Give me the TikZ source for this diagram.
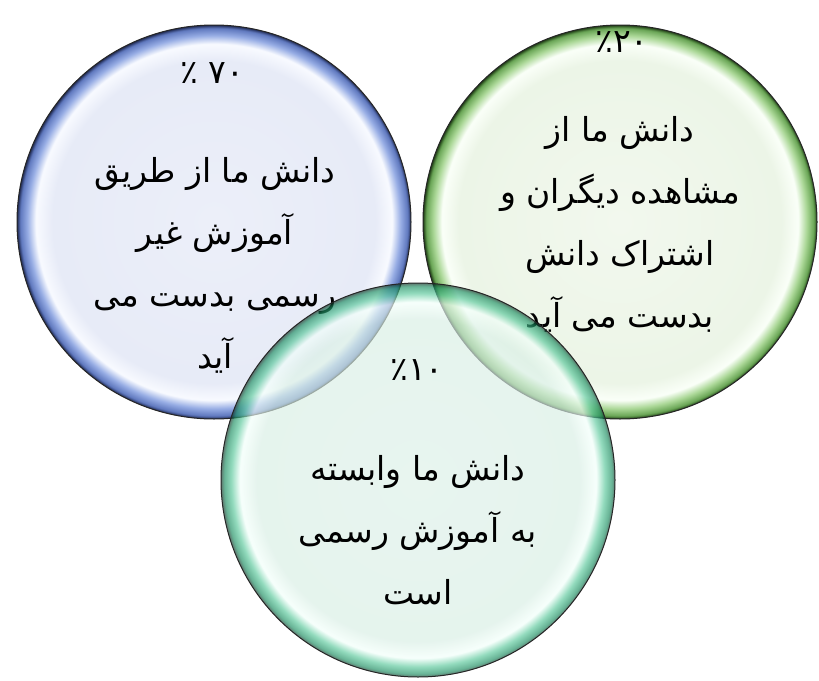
\documentclass[tikz,border=0pt]{standalone}
\usepackage{fontspec}
\newfontfamily\fa[Script=Arabic]{DejaVu Sans}
\TeXXeTstate=1
\definecolor{bIn}{RGB}{236,239,249}
\definecolor{bMid}{RGB}{231,235,247}
\definecolor{bHi}{RGB}{248,250,255}
\definecolor{bRim}{RGB}{150,172,228}
\definecolor{bDark}{RGB}{95,120,190}
\definecolor{bEdge}{RGB}{30,40,80}
\definecolor{gIn}{RGB}{242,248,238}
\definecolor{gMid}{RGB}{236,245,231}
\definecolor{gHi}{RGB}{250,255,248}
\definecolor{gRim}{RGB}{170,215,150}
\definecolor{gDark}{RGB}{105,165,85}
\definecolor{gEdge}{RGB}{30,60,20}
\definecolor{tIn}{RGB}{220,240,231}
\definecolor{tMid}{RGB}{216,238,228}
\definecolor{tHi}{RGB}{242,255,250}
\definecolor{tRim}{RGB}{90,200,155}
\definecolor{tDark}{RGB}{25,140,95}
\definecolor{tEdge}{RGB}{10,50,35}
\pgfdeclareradialshading{bubbleblue}{\pgfpoint{0bp}{0bp}}{color(0bp)=(bIn); color(20.5bp)=(bMid); color(22.6bp)=(bHi); color(23.7bp)=(bRim); color(24.6bp)=(bDark); color(25bp)=(bEdge); color(50bp)=(bEdge)}
\pgfdeclareradialshading{bubblegreen}{\pgfpoint{0bp}{0bp}}{color(0bp)=(gIn); color(20.5bp)=(gMid); color(22.6bp)=(gHi); color(23.7bp)=(gRim); color(24.6bp)=(gDark); color(25bp)=(gEdge); color(50bp)=(gEdge)}
\pgfdeclareradialshading{bubbleteal}{\pgfpoint{0bp}{0bp}}{color(0bp)=(tIn); color(20.5bp)=(tMid); color(22.6bp)=(tHi); color(23.7bp)=(tRim); color(24.6bp)=(tDark); color(25bp)=(tEdge); color(50bp)=(tEdge)}
\begin{document}
\begin{tikzpicture}[x=1pt,y=-1pt,
  bubble/.style={circle, minimum size=394pt, inner sep=0pt, shade, shading=#1, draw=black!85, line width=1pt},
  txt/.style={font=\fa\fontsize{33}{62}\selectfont, align=center, text=black, inner sep=0pt},
  pct/.style={font=\fa\fontsize{33}{38}\selectfont, text=black, inner sep=0pt}]
\useasboundingbox (0,0) rectangle (819,680);
\node[bubble=bubblegreen] (green) at (620,222) {};
\node[bubble=bubbleblue] (blue) at (214,222) {};
\node[pct] (bpct) at (212,73) {\beginR ۷۰ ٪\endR};
\node[txt] (btext) at (215,265) {\beginR دانش ما از طریق\endR\\ \beginR آموزش غیر\endR\\ \beginR رسمی بدست می\endR\\ \beginR آید\endR};
\node[pct] (gpct) at (622,42) {\beginL ٪۲۰\endL};
\node[txt] (gtext) at (620,224) {\beginR دانش ما از\endR\\ \beginR مشاهده دیگران و\endR\\ \beginR اشتراک دانش\endR\\ \beginR بدست می آید\endR};
\node[bubble=bubbleteal, fill opacity=0.66] (teal) at (418,480) {};
\node[pct] (tpct) at (417,370) {\beginL ٪۱۰\endL};
\node[txt] (ttext) at (418,530) {\beginR دانش ما وابسته\endR\\ \beginR به آموزش رسمی\endR\\ \beginR است\endR};
\end{tikzpicture}
\end{document}
